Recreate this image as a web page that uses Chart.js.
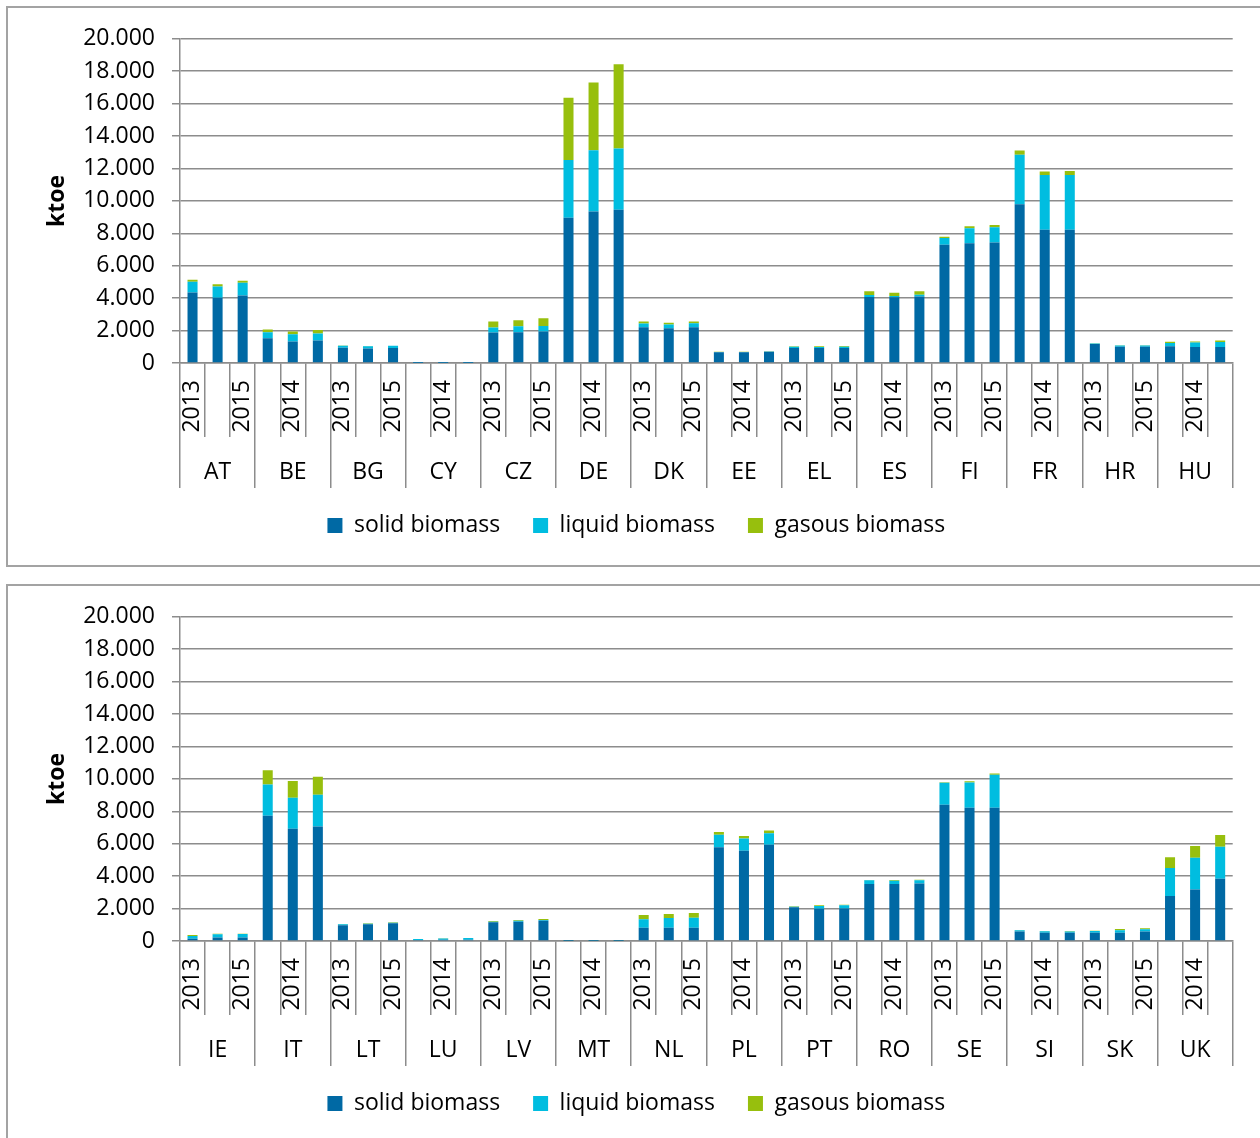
<!DOCTYPE html>
<html>
<head>
<meta charset="utf-8">
<title>Bioenergy consumption by type, 2013–2015</title>
<script src="https://cdn.jsdelivr.net/npm/chart.js@4.4.1/dist/chart.umd.min.js"></script>
<style>
  html, body { margin: 0; padding: 0; background: #fff; overflow: hidden; }
  body { width: 1260px; height: 1138px; position: relative; }
  .panel {
    position: absolute; left: 6px; width: 1270px; height: 557px;
    border: 2px solid #a3a3a3; background: #fff;
  }
  .panel canvas { position: absolute; left: 0; top: 0; }
</style>
</head>
<body>
<div class="panel" style="top:6px"><canvas id="chartTop" width="1252" height="556"></canvas></div>
<div class="panel" style="top:584px"><canvas id="chartBottom" width="1252" height="556"></canvas></div>

<script>
// Countries per panel and the years shown for each country
const countriesTop = ['AT', 'BE', 'BG', 'CY', 'CZ', 'DE', 'DK', 'EE', 'EL', 'ES', 'FI', 'FR', 'HR', 'HU'];
const countriesBottom = ['IE', 'IT', 'LT', 'LU', 'LV', 'MT', 'NL', 'PL', 'PT', 'RO', 'SE', 'SI', 'SK', 'UK'];
const years = ['2013', '2014', '2015'];

// Series names
const seriesNames = ['solid biomass', 'liquid biomass', 'gasous biomass'];

// Values in ktoe, three years per country (top panel)
const solidTop = [
  4350, 4030, 4170,   1530, 1330, 1390,   940, 900, 920,   6, 6, 6,
  1880, 1900, 1940,   8960, 9350, 9450,   2210, 2150, 2210,   670, 670, 700,
  920, 920, 920,   4070, 4050, 4110,   7300, 7380, 7440,   9800, 8220, 8220,
  1170, 1000, 1000,   1040, 980, 980
];
const liquidTop = [
  660, 690, 780,   370, 450, 430,   120, 140, 140,   4, 4, 4,
  310, 370, 350,   3560, 3780, 3780,   220, 220, 240,   10, 10, 10,
  80, 70, 90,   120, 80, 100,   410, 940, 940,   3040, 3380, 3380,
  40, 80, 80,   190, 290, 310
];
const gasTop = [
  120, 140, 120,   170, 160, 220,   20, 10, 10,   10, 10, 10,
  370, 370, 470,   3840, 4170, 5200,   130, 120, 110,   10, 10, 10,
  30, 40, 40,   230, 210, 210,   80, 110, 130,   270, 220, 240,
  10, 10, 10,   80, 60, 100
];

// Values in ktoe, three years per country (bottom panel)
const solidBottom = [
  140, 210, 210,   7730, 6930, 7070,   970, 1030, 1090,   60, 80, 80,
  1150, 1190, 1250,   3, 3, 3,   820, 820, 820,   5780, 5570, 5940,
  2080, 1990, 2010,   3510, 3510, 3540,   8410, 8220, 8220,   580, 510, 510,
  510, 510, 580,   2770, 3170, 3840
];
const liquidBottom = [
  170, 200, 220,   1930, 1910, 1950,   60, 40, 40,   60, 80, 100,
  40, 60, 40,   3, 3, 3,   520, 600, 620,   780, 760, 700,
  40, 170, 190,   230, 210, 200,   1350, 1560, 2040,   80, 90, 70,
  110, 150, 140,   1730, 1970, 1980
];
const gasBottom = [
  60, 40, 20,   880, 1030, 1110,   20, 20, 20,   10, 10, 10,
  40, 40, 70,   3, 3, 3,   260, 240, 290,   160, 140, 180,
  20, 40, 40,   20, 40, 40,   40, 80, 80,   20, 20, 40,
  20, 80, 60,   660, 720, 720
];

// Value axis ticks
const yMin = 0;
const yMax = 20000;
const yStep = 2000;

const colors = ['#0069a4', '#00bde0', '#97bf0d'];
const axisGrey = '#8c8c8c';

Chart.defaults.font.family = "'Open Sans', 'DejaVu Sans', sans-serif";
Chart.defaults.font.size = 23;
Chart.defaults.color = '#000';

function thousands(v) {
  return String(v).replace(/\B(?=(\d{3})+(?!\d))/g, '.');
}

function buildChart(canvasId, countries, solid, liquid, gas) {
  const yearLabels = countries.flatMap(() => years);
  const seriesValues = [solid, liquid, gas];

  return new Chart(document.getElementById(canvasId), {
    type: 'bar',
    data: {
      labels: yearLabels,
      datasets: seriesValues.map((values, i) => ({
        label: seriesNames[i],
        data: values,
        backgroundColor: colors[i],
        borderWidth: 0,
        barPercentage: 0.4,
        categoryPercentage: 1.0,
        xAxisID: 'x',
        yAxisID: 'y'
      }))
    },
    options: {
      responsive: false,
      devicePixelRatio: 1,
      animation: false,
      layout: { padding: { top: 29, left: 32, right: 27.3, bottom: 17 } },
      plugins: {
        tooltip: { enabled: false },
        legend: {
          position: 'bottom',
          labels: {
            boxWidth: 15,
            boxHeight: 15,
            padding: 33,
            color: '#000',
            font: { size: 23 }
          }
        }
      },
      scales: {
        // year labels, one per bar (every other one shown)
        x: {
          type: 'category',
          position: 'bottom',
          stacked: true,
          offset: true,
          grid: {
            display: true,
            drawOnChartArea: false,
            offset: true,
            tickLength: 74,
            color: axisGrey,
            lineWidth: 1.5
          },
          border: { display: true, color: axisGrey, width: 1.5 },
          ticks: {
            autoSkip: false,
            minRotation: 90,
            maxRotation: 90,
            padding: -57,
            color: '#000',
            font: { size: 23 },
            callback: function (value, index) {
              return index % 2 === 0 ? this.getLabelForValue(value) : '';
            }
          },
          afterFit: (scale) => { scale.height = 74; }
        },
        // country groups under the years
        x2: {
          type: 'category',
          labels: countries,
          position: 'bottom',
          offset: true,
          grid: {
            display: true,
            drawOnChartArea: false,
            offset: true,
            tickLength: 51,
            color: axisGrey,
            lineWidth: 1.5
          },
          border: { display: false },
          ticks: {
            autoSkip: false,
            maxRotation: 0,
            minRotation: 0,
            padding: -29,
            color: '#000',
            font: { size: 23 }
          },
          afterFit: (scale) => { scale.height = 44; }
        },
        y: {
          type: 'linear',
          stacked: true,
          min: yMin,
          max: yMax,
          grid: {
            color: axisGrey,
            lineWidth: 1.5,
            drawTicks: true,
            tickLength: 8
          },
          border: { display: true, color: axisGrey, width: 1.5 },
          ticks: {
            stepSize: yStep,
            padding: 17,
            color: '#000',
            font: { size: 23 },
            callback: (v) => thousands(v)
          },
          title: {
            display: true,
            text: 'ktoe',
            color: '#000',
            font: { size: 23, weight: 'bold' },
            padding: { top: 4, bottom: 0 }
          },
          afterFit: (scale) => { scale.width = 140; }
        }
      }
    }
  });
}

buildChart('chartTop', countriesTop, solidTop, liquidTop, gasTop);
buildChart('chartBottom', countriesBottom, solidBottom, liquidBottom, gasBottom);
</script>
</body>
</html>
